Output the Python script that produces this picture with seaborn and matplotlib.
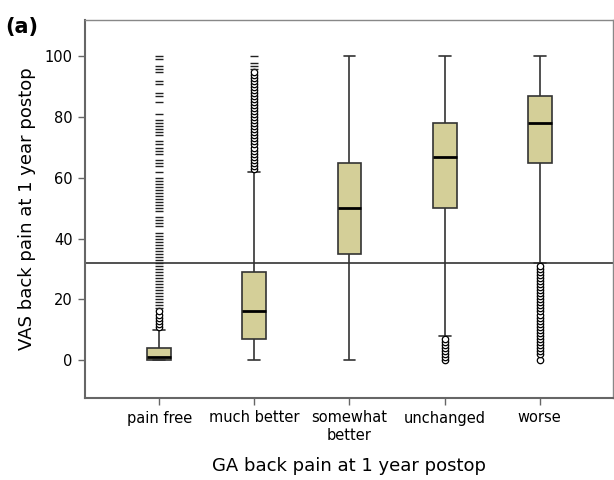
import numpy as np
import pandas as pd
import matplotlib
matplotlib.use("Agg")
import matplotlib.pyplot as plt
import seaborn as sns

# ---- data ----
categories = ["pain free", "much better", "somewhat\nbetter", "unchanged", "worse"]
# five-number summaries: whisker low, Q1, median, Q3, whisker high
whisker_low = [0, 0, 0, 8, 32]
q1 = [0, 7, 35, 50, 65]
median = [1, 16, 50, 67, 78]
q3 = [4, 29, 65, 78, 87]
whisker_high = [10, 62, 100, 100, 100]

# outliers (circles) and extremes (small dashes)
pain_free_outliers = list(range(11, 17))
pain_free_extremes = (list(range(17, 43)) + [44, 45, 46, 47, 49, 50, 51, 52, 53, 54, 55, 56, 57,
                      58, 59, 60, 62, 64, 65, 66, 68, 69, 70, 71, 72, 74, 75, 76, 77, 78, 79,
                      81, 85, 87, 88, 91, 92, 95, 96, 97, 99, 100])
much_better_outliers = list(range(63, 96))
much_better_extremes = [96, 97, 98, 100]
unchanged_outliers = list(range(0, 8))
worse_outliers = [0] + list(range(2, 32))

reference_line = 32

# ---- build tables ----
box_rows = []
for i, c in enumerate(categories):
    for v in (whisker_low[i], q1[i], median[i], q3[i], whisker_high[i]):
        box_rows.append({"cat": c, "val": v})
box_df = pd.DataFrame(box_rows)

out_df = pd.DataFrame(
    [{"cat": categories[0], "val": v} for v in pain_free_outliers]
    + [{"cat": categories[1], "val": v} for v in much_better_outliers]
    + [{"cat": categories[3], "val": v} for v in unchanged_outliers]
    + [{"cat": categories[4], "val": v} for v in worse_outliers]
)
ext_df = pd.DataFrame(
    [{"cat": categories[0], "val": v} for v in pain_free_extremes]
    + [{"cat": categories[1], "val": v} for v in much_better_extremes]
)

sns.set_style("white")
plt.rcParams["font.family"] = ["DejaVu Sans"]
plt.rcParams["text.color"] = "black"
plt.rcParams["axes.labelcolor"] = "black"

fig = plt.figure(figsize=(6.14, 4.8), dpi=100)
ax = fig.add_axes([85 / 614, 82 / 480, 528 / 614, 378 / 480])

ax.axhline(reference_line, color="#222222", linewidth=1.1, zorder=1)

sns.boxplot(data=box_df, x="cat", y="val", order=categories, ax=ax,
            color="#D4CF98", saturation=1, linecolor="#333333", linewidth=1.2,
            width=0.25, whis=(0, 100), showfliers=False,
            medianprops=dict(color="black", linewidth=2.0),
            zorder=2)

sns.stripplot(data=out_df, x="cat", y="val", order=categories, ax=ax,
              jitter=False, marker="o", size=4.6, color="white",
              edgecolor="black", linewidth=0.9, zorder=3)
sns.stripplot(data=ext_df, x="cat", y="val", order=categories, ax=ax,
              jitter=False, marker="_", size=5.5, color="#222222",
              linewidth=1.0, zorder=3)

ax.set_xlim(-0.78, 4.77)
ax.set_ylim(-12.5, 112)
ax.set_yticks([0, 20, 40, 60, 80, 100])

for s in ax.spines.values():
    s.set_color("#888888")
    s.set_linewidth(1.0)
ax.spines["left"].set_color("#666666")
ax.spines["left"].set_linewidth(1.5)
ax.spines["bottom"].set_color("#666666")
ax.spines["bottom"].set_linewidth(1.5)

ax.tick_params(axis="both", direction="out", length=5, width=1, color="#666666",
               labelsize=10.5, labelcolor="black", pad=4)
ax.tick_params(axis="both", bottom=True, left=True)
ax.set_xlabel("GA back pain at 1 year postop", fontsize=13, labelpad=10, color="black")
ax.set_ylabel("VAS back pain at 1 year postop", fontsize=13, labelpad=6, color="black")

fig.text(0.008, 0.965, "(a)", fontsize=15, fontweight="bold", va="top", ha="left",
         color="black")

fig.savefig("out.png", dpi=100)
